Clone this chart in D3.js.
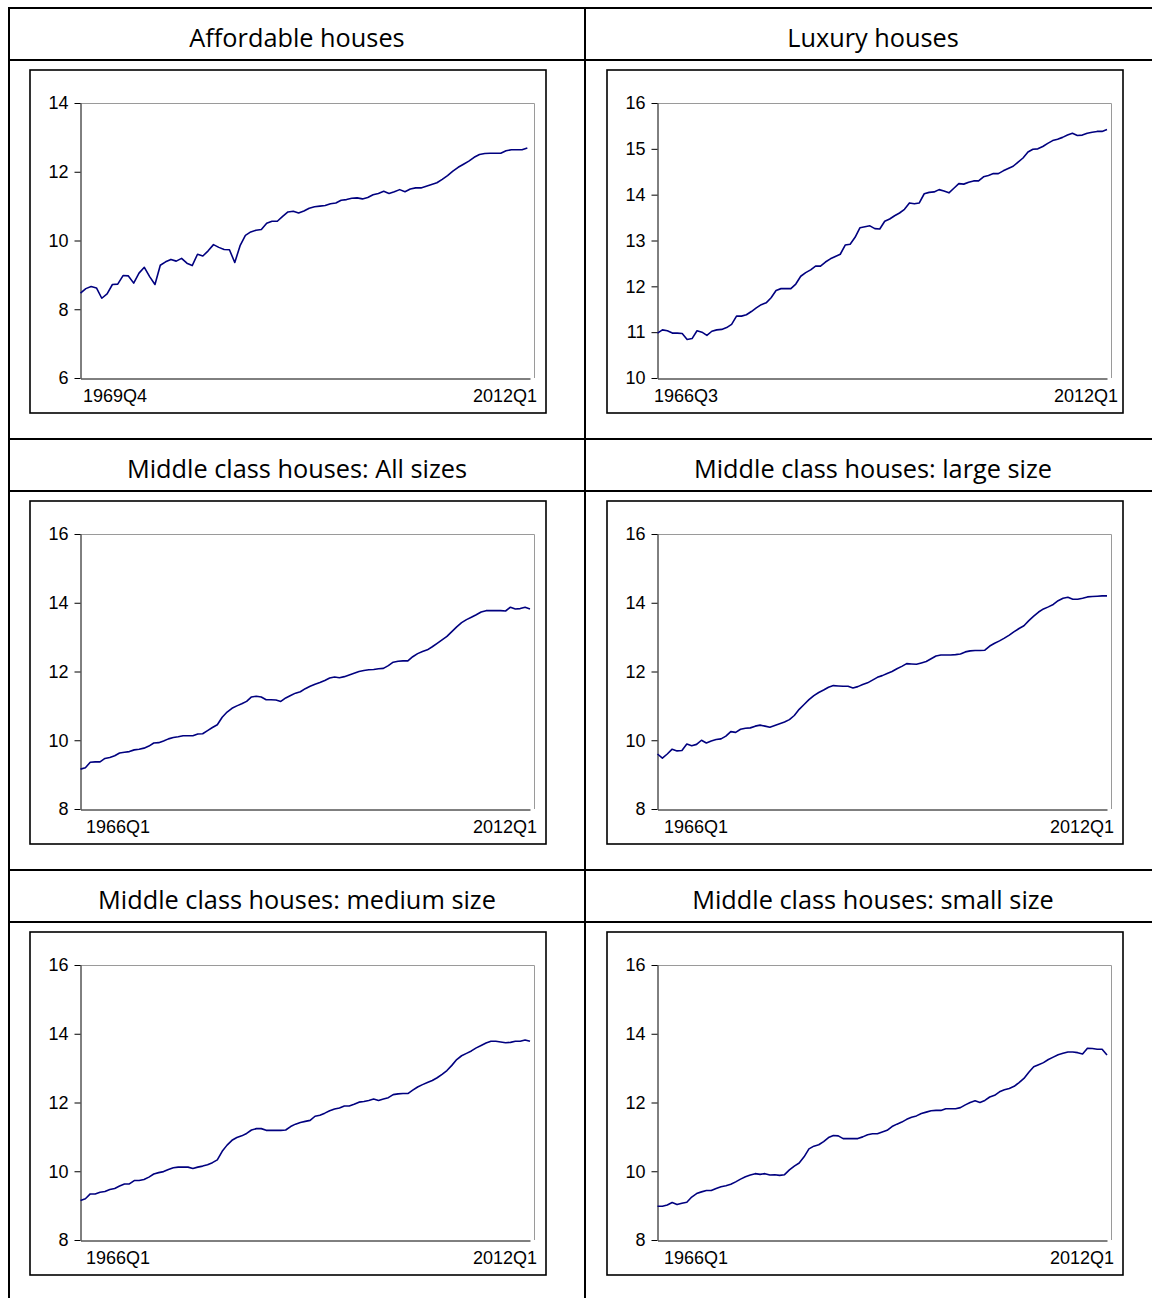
<!DOCTYPE html>
<html><head><meta charset="utf-8">
<script src="https://cdn.jsdelivr.net/npm/d3@7/dist/d3.min.js"></script>
<style>body{margin:0;background:#fff}</style>
</head><body>
<svg id="c" width="1152" height="1298"></svg>
<script>
// ---------- data ----------
const titles = [
  "Affordable houses",
  "Luxury houses",
  "Middle class houses: All sizes",
  "Middle class houses: large size",
  "Middle class houses: medium size",
  "Middle class houses: small size"
];
const startLabels = ["1969Q4", "1966Q3", "1966Q1", "1966Q1", "1966Q1", "1966Q1"];
const endLabel = "2012Q1";
const startYears = [1969.75, 1966.5, 1966.0, 1966.0, 1966.0, 1966.0];
const endYear = 2012.0;
const stepYears = 0.5; // one value every two quarters

const yTicksAffordable = [6, 8, 10, 12, 14];
const yTicksLuxury = [10, 11, 12, 13, 14, 15, 16];
const yTicksMiddle = [8, 10, 12, 14, 16];

const affordable = [
  8.47, 8.6, 8.66, 8.62, 8.32, 8.45, 8.72, 8.73, 8.98, 8.97,
  8.76, 9.05, 9.22, 8.95, 8.72, 9.28, 9.38, 9.45, 9.4, 9.48,
  9.34, 9.27, 9.6, 9.55, 9.7, 9.88, 9.8, 9.74, 9.73, 9.36,
  9.85, 10.15, 10.25, 10.3, 10.32, 10.5, 10.56, 10.56, 10.7, 10.83,
  10.85, 10.8, 10.86, 10.94, 10.98, 11.0, 11.02, 11.07, 11.09, 11.17,
  11.19, 11.23, 11.24, 11.21, 11.25, 11.33, 11.37, 11.43, 11.37, 11.42,
  11.48, 11.42, 11.5, 11.53, 11.53, 11.58, 11.63, 11.68, 11.78, 11.89,
  12.02, 12.13, 12.22, 12.31, 12.42, 12.5, 12.53, 12.54, 12.54, 12.54,
  12.61, 12.64, 12.64, 12.64, 12.69
];
const luxury = [
  10.98, 11.05, 11.03, 10.98, 10.98, 10.97, 10.84, 10.86, 11.03, 11.0,
  10.93, 11.02, 11.05, 11.06, 11.1, 11.17, 11.35, 11.35, 11.38, 11.45,
  11.53, 11.6, 11.64, 11.75, 11.91, 11.95, 11.95, 11.95, 12.05, 12.22,
  12.3, 12.36, 12.44, 12.44, 12.53, 12.6, 12.65, 12.7, 12.9, 12.92,
  13.07, 13.28, 13.3, 13.32, 13.26, 13.25, 13.42, 13.47, 13.54, 13.6,
  13.68, 13.82, 13.8, 13.82, 14.02, 14.05, 14.06, 14.11, 14.08, 14.04,
  14.14, 14.24, 14.23, 14.27, 14.3, 14.3, 14.39, 14.42, 14.46, 14.46,
  14.52, 14.57, 14.62, 14.71, 14.8, 14.93, 14.99, 15.0, 15.05, 15.12,
  15.18, 15.21, 15.25, 15.3, 15.34, 15.29, 15.3, 15.34, 15.36, 15.38,
  15.38, 15.42
];
const middleAll = [
  9.16, 9.2, 9.36, 9.37, 9.37, 9.47, 9.5, 9.55, 9.63, 9.65,
  9.67, 9.72, 9.74, 9.77, 9.83, 9.92, 9.93, 9.98, 10.04, 10.08,
  10.1, 10.13, 10.13, 10.13, 10.18, 10.19, 10.28, 10.37, 10.45, 10.67,
  10.82, 10.93, 11.0, 11.06, 11.13, 11.26, 11.28, 11.26, 11.18, 11.18,
  11.17, 11.13, 11.23, 11.3, 11.37, 11.41, 11.5, 11.57, 11.63, 11.68,
  11.74, 11.81, 11.84, 11.82, 11.85, 11.9, 11.95, 12.0, 12.03, 12.05,
  12.06, 12.08, 12.09, 12.17, 12.27, 12.3, 12.31, 12.31, 12.43, 12.52,
  12.58, 12.63, 12.72, 12.82, 12.92, 13.02, 13.16, 13.3, 13.42, 13.51,
  13.58, 13.65, 13.73, 13.77, 13.77, 13.77, 13.77, 13.76, 13.87, 13.82,
  13.83, 13.87, 13.82
];
const middleLarge = [
  9.6, 9.48, 9.6, 9.74, 9.69, 9.7, 9.89, 9.84, 9.88, 10.0,
  9.92, 9.98, 10.02, 10.04, 10.12, 10.25, 10.23, 10.32, 10.35, 10.36,
  10.41, 10.44, 10.41, 10.38, 10.43, 10.48, 10.53, 10.6, 10.72, 10.9,
  11.04, 11.18, 11.3, 11.39, 11.46, 11.54, 11.59, 11.58, 11.57, 11.57,
  11.52, 11.56, 11.62, 11.67, 11.75, 11.83, 11.88, 11.94, 12.0, 12.08,
  12.15, 12.23, 12.22, 12.21, 12.25, 12.29, 12.37, 12.45, 12.48, 12.48,
  12.48, 12.49, 12.51, 12.57, 12.6, 12.61, 12.61, 12.62, 12.74, 12.82,
  12.89, 12.97, 13.06, 13.16, 13.25, 13.33, 13.48, 13.61, 13.73, 13.82,
  13.88, 13.95, 14.06, 14.13, 14.16, 14.1, 14.1, 14.13, 14.17, 14.18,
  14.19, 14.2, 14.2
];
const middleMedium = [
  9.15, 9.2, 9.34, 9.34, 9.39, 9.41, 9.47, 9.5, 9.57, 9.63,
  9.63, 9.73, 9.73, 9.76, 9.83, 9.92, 9.96, 9.99, 10.05, 10.1,
  10.12, 10.12, 10.12, 10.08, 10.12, 10.15, 10.19, 10.25, 10.33, 10.58,
  10.76, 10.9, 10.98, 11.03, 11.1, 11.2, 11.24, 11.24, 11.19, 11.19,
  11.19, 11.19, 11.2, 11.3, 11.37, 11.42, 11.45, 11.48, 11.6, 11.63,
  11.69, 11.76, 11.81, 11.84, 11.9, 11.9, 11.95, 12.01, 12.03, 12.06,
  12.1, 12.06, 12.1, 12.14, 12.23, 12.25, 12.26, 12.26, 12.36, 12.45,
  12.52, 12.58, 12.64, 12.72, 12.82, 12.93, 13.08, 13.25, 13.36, 13.43,
  13.5, 13.59, 13.66, 13.73, 13.78, 13.78, 13.76, 13.74, 13.75, 13.78,
  13.78, 13.82, 13.78
];
const middleSmall = [
  8.98, 8.98, 9.02, 9.09, 9.03, 9.07, 9.1, 9.25, 9.35, 9.4,
  9.44, 9.44, 9.5, 9.55, 9.58, 9.62, 9.69, 9.77, 9.84, 9.89,
  9.93, 9.91, 9.93, 9.89, 9.9, 9.88, 9.9, 10.04, 10.15, 10.24,
  10.42, 10.65, 10.73, 10.77, 10.86, 10.98, 11.04, 11.03, 10.95, 10.95,
  10.95, 10.95, 11.0, 11.06, 11.09, 11.09, 11.14, 11.19, 11.3, 11.37,
  11.43, 11.51, 11.57, 11.61, 11.68, 11.72, 11.76, 11.77, 11.77, 11.82,
  11.82, 11.82, 11.85, 11.93, 12.0, 12.05, 12.0, 12.06, 12.16, 12.21,
  12.31, 12.37, 12.41, 12.47, 12.58, 12.7, 12.88, 13.04, 13.1, 13.16,
  13.25, 13.32, 13.39, 13.43, 13.47, 13.47, 13.45, 13.41, 13.58, 13.57,
  13.55, 13.55, 13.38
];

const seriesList = [affordable, luxury, middleAll, middleLarge, middleMedium, middleSmall];
const tickList = [yTicksAffordable, yTicksLuxury, yTicksMiddle, yTicksMiddle, yTicksMiddle, yTicksMiddle];

// ---------- layout ----------
const W = 1152, H = 1298;
const tableLeft = 9, tableMid = 585, tableRight = 1161;
const rowTops = [8, 439, 870];
const titleRowH = 52;
const boxX = [30, 607];
const startLabelShift = [3, -3, 6, 7, 6, 7];
const endLabelShift = [3, 7, 3, 3, 3, 3];
const axisFont = "'Liberation Sans', Arial, sans-serif";

const svg = d3.select("#c");
svg.append("rect").attr("width", W).attr("height", H).attr("fill", "#fff");

// table grid
const grid = svg.append("g").attr("stroke", "#000").attr("stroke-width", 2);
rowTops.forEach(t => {
  grid.append("line").attr("x1", tableLeft - 1).attr("x2", W).attr("y1", t).attr("y2", t);
  grid.append("line").attr("x1", tableLeft - 1).attr("x2", W).attr("y1", t + titleRowH).attr("y2", t + titleRowH);
});
grid.append("line").attr("x1", tableLeft).attr("x2", tableLeft).attr("y1", rowTops[0] - 1).attr("y2", H);
grid.append("line").attr("x1", tableMid).attr("x2", tableMid).attr("y1", rowTops[0] - 1).attr("y2", H);

seriesList.forEach((values, i) => {
  const col = i % 2, row = Math.floor(i / 2);
  const cellL = col === 0 ? tableLeft : tableMid;
  const cellR = col === 0 ? tableMid : tableRight;
  const top = rowTops[row];
  const g = svg.append("g");

  // title
  g.append("text")
    .attr("x", (cellL + cellR) / 2)
    .attr("y", top + 39)
    .attr("text-anchor", "middle")
    .attr("font-family", "'Open Sans', 'Noto Sans', sans-serif")
    .attr("font-size", 25.3)
    .attr("fill", "#000")
    .text(titles[i]);

  // outer frame
  const bx = boxX[col], by = top + 62;
  g.append("rect")
    .attr("x", bx).attr("y", by).attr("width", 516).attr("height", 343)
    .attr("fill", "#fff").attr("stroke", "#000").attr("stroke-width", 1.6);

  const pl = bx + 50, pr = bx + 504, pt = top + 95, pb = top + 370;
  const ticks = tickList[i];

  const x = d3.scaleLinear().domain([startYears[i], endYear]).range([pl + 0.5, pr - 4]);
  const y = d3.scaleLinear().domain([ticks[0], ticks[ticks.length - 1]]).range([pb, pt]);

  // grey top/right frame
  g.append("path")
    .attr("d", `M${pl},${pt + 0.5}H${pr + 0.5}V${pb}`)
    .attr("fill", "none").attr("stroke", "#9a9a9a").attr("stroke-width", 1);

  // y axis
  const ya = g.append("g").attr("transform", `translate(${pl + 0.5},0)`)
    .call(d3.axisLeft(y).tickValues(ticks).tickSize(6).tickSizeOuter(0).tickPadding(6).tickFormat(d3.format("d")));
  ya.select(".domain").attr("stroke", "#000");
  ya.selectAll(".tick line").attr("stroke", "#000");
  ya.selectAll("text")
    .attr("font-family", axisFont)
    .attr("font-size", 18).attr("fill", "#000");

  // x axis (line only)
  const xa = g.append("g").attr("transform", `translate(0,${pb + 0.5})`)
    .call(d3.axisBottom(x).tickValues([]).tickSizeOuter(0));
  xa.select(".domain").attr("stroke", "#000");

  // x labels
  g.append("text")
    .attr("x", pl + startLabelShift[i]).attr("y", pb + 24)
    .attr("font-family", axisFont)
    .attr("font-size", 18).attr("fill", "#000")
    .text(startLabels[i]);
  g.append("text")
    .attr("x", pr + endLabelShift[i]).attr("y", pb + 24)
    .attr("text-anchor", "end")
    .attr("font-family", axisFont)
    .attr("font-size", 18).attr("fill", "#000")
    .text(endLabel);

  // series line
  const pts = values.map((v, k) => [startYears[i] + k * stepYears, v]);
  g.append("path")
    .datum(pts)
    .attr("fill", "none")
    .attr("stroke", "#00007f")
    .attr("stroke-width", 1.6)
    .attr("stroke-linejoin", "round")
    .attr("d", d3.line().x(d => x(d[0])).y(d => y(d[1])));
});
</script>
</body></html>
